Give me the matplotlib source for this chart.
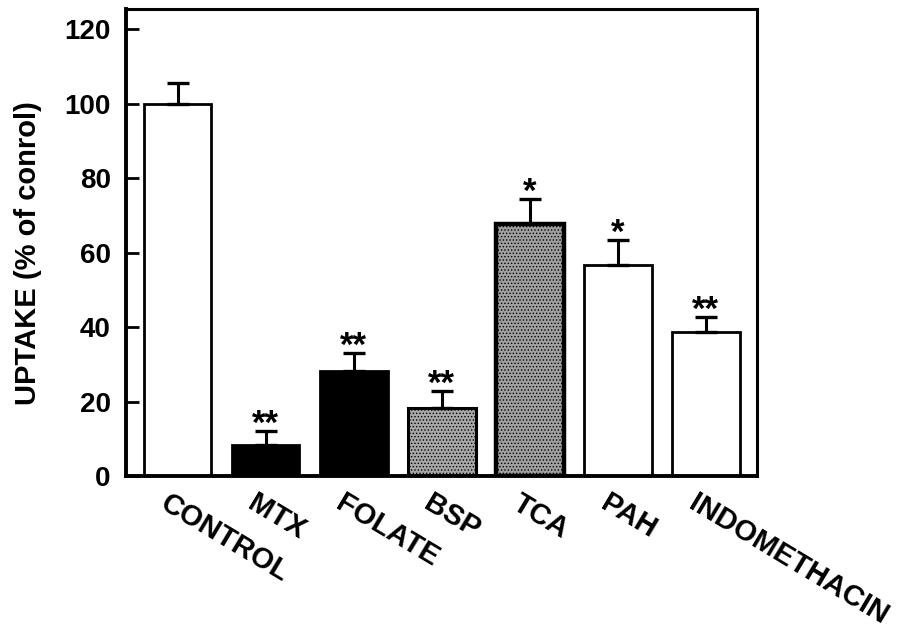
import matplotlib
matplotlib.use("Agg")
import matplotlib.pyplot as plt
import numpy as np

plt.rcParams['font.family'] = ['Liberation Sans', 'DejaVu Sans']
plt.rcParams['hatch.linewidth'] = 0.6

groups = ['CONTROL', 'MTX', 'FOLATE', 'BSP', 'TCA', 'PAH', 'INDOMETHACIN']
uptake = [100.0, 8.3, 28.2, 18.3, 67.6, 56.6, 38.7]
sem = [5.6, 3.8, 4.8, 4.5, 6.8, 6.8, 4.0]
stars = ['', '**', '**', '**', '*', '*', '**']
fills = ['white', 'black', 'black', '#a8a8a8', '#a0a0a0', 'white', 'white']
hatches = [None, None, None, '.....', '.....', None, None]
edge_w = [2.0, 2.0, 2.0, 2.2, 3.2, 2.0, 2.0]

fig = plt.figure(figsize=(9.21, 6.33), dpi=100)
ax = fig.add_axes([126 / 921, 157 / 633, 631 / 921, 467 / 633])

x = np.arange(len(groups))
for i in range(len(groups)):
    ax.bar(x[i], uptake[i], width=0.77, color=fills[i], edgecolor='black',
           linewidth=edge_w[i], hatch=hatches[i], zorder=2)
    # upper half of the error bar only
    ax.errorbar(x[i], uptake[i], yerr=[[0], [sem[i]]], fmt='none',
                ecolor='black', elinewidth=2.2, capsize=8, capthick=2.4,
                zorder=3)
    if stars[i]:
        ax.text(x[i], uptake[i] + sem[i] - 0.8, stars[i], ha='center',
                va='baseline', fontsize=25, fontweight='bold')

ax.set_xlim(-0.585, 6.58)
ax.set_ylim(0, 125.4)
ax.set_yticks([0, 20, 40, 60, 80, 100, 120])
ax.set_xticks([])
ax.tick_params(axis='y', direction='in', length=9, width=2, pad=11,
               labelsize=20)
for lab in ax.get_yticklabels():
    lab.set_fontweight('bold')
for side in ['left', 'bottom']:
    ax.spines[side].set_linewidth(2.8)
for side in ['top', 'right']:
    ax.spines[side].set_linewidth(2.2)

# slanted group names under the axis
for i, name in enumerate(groups):
    ax.annotate(name, xy=(x[i] - 0.09, 0), xytext=(0, -9.5),
                textcoords='offset points', ha='left', va='top',
                rotation=-31, rotation_mode='anchor', fontsize=21,
                fontweight='bold', annotation_clip=False)

fig.text(28 / 921, 1 - 253 / 633, 'UPTAKE (% of conrol)', rotation=90,
         ha='center', va='center', fontsize=21, fontweight='bold')

plt.savefig('out.png', dpi=100)
